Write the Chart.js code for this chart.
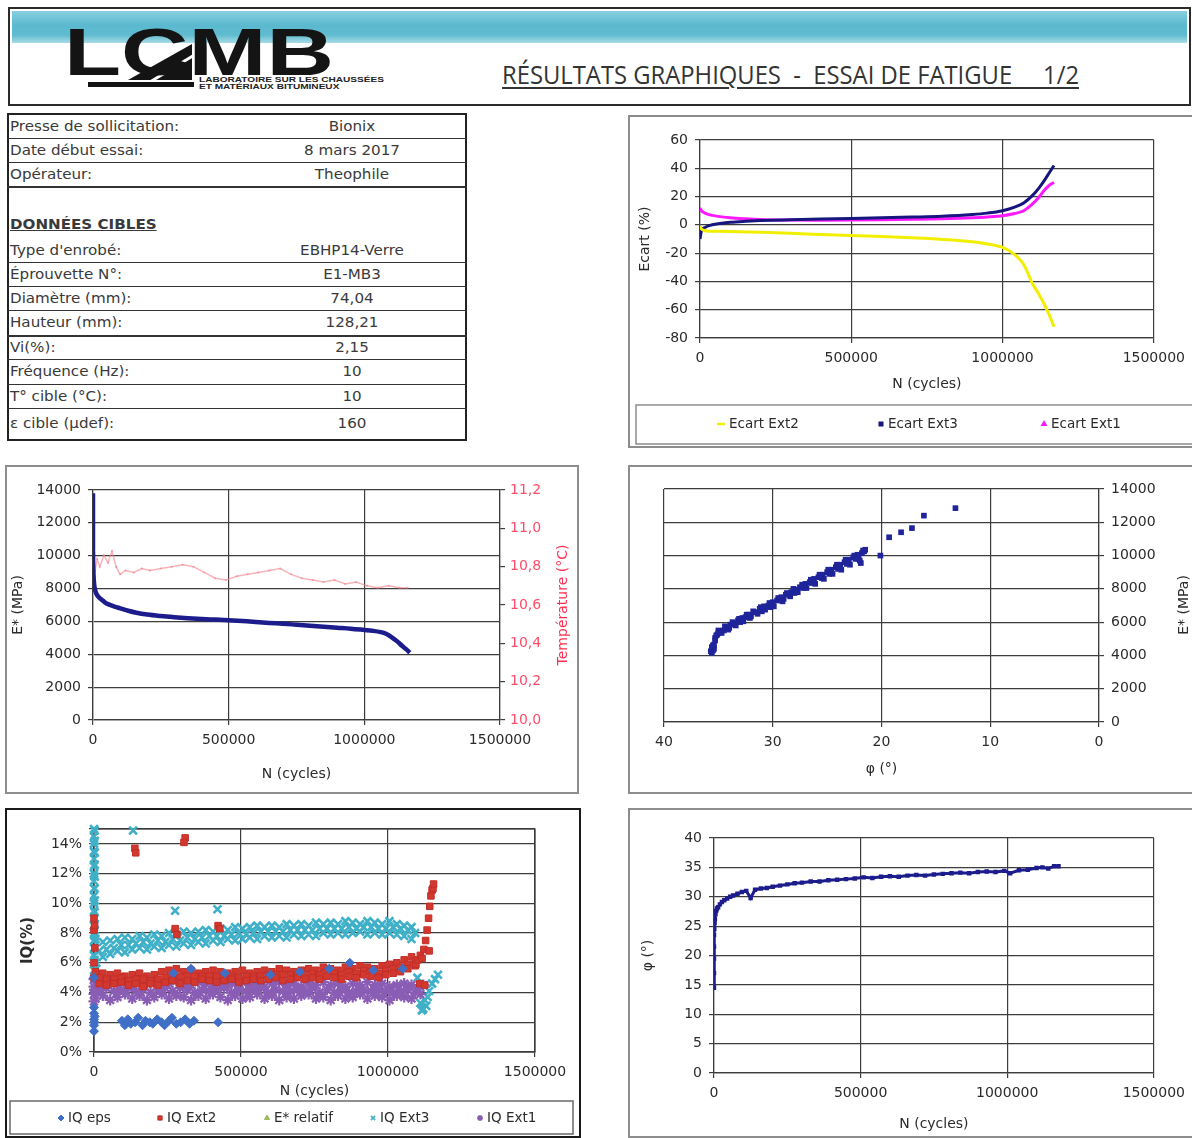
<!DOCTYPE html>
<html lang="fr">
<head>
<meta charset="utf-8">
<title>Résultats graphiques - Essai de fatigue</title>
<script src="https://cdn.jsdelivr.net/npm/chart.js@4/dist/chart.umd.min.js"></script>
<style>
html,body{margin:0;padding:0;background:#fff;}
body{position:relative;width:1192px;height:1138px;overflow:hidden;font-family:"DejaVu Sans",sans-serif;color:#333;}
.a{position:absolute;}
.frame{position:absolute;box-sizing:border-box;border:2px solid #8d8d8d;}
canvas{position:absolute;display:block;}
.hl{position:absolute;left:7px;width:460px;height:1px;background:#333;}
.lbl{position:absolute;left:10px;height:18px;line-height:18px;font-size:13.5px;white-space:nowrap;transform-origin:left center;transform:scaleX(1.12);color:#3a3a3a;}
.val{position:absolute;left:252px;width:200px;height:18px;line-height:18px;font-size:13.5px;text-align:center;white-space:nowrap;transform:scaleX(1.12);color:#3a3a3a;}
</style>
</head>
<body>
<!-- header -->
<div class="a" style="left:8px;top:7px;width:1183px;height:99px;border:2px solid #2b2b2b;box-sizing:border-box;"></div>
<div class="a" style="left:12px;top:11px;width:1175px;height:32px;background:linear-gradient(#88d0e0,#5bb9cf 45%,#60bbcf 75%,#a8dce7);"></div>
<svg class="a" style="left:0;top:0" width="260" height="100">
  <polygon points="128,80 192,80 192,44" fill="#141414"/>
  <line x1="150" y1="82" x2="196" y2="54" stroke="#fff" stroke-width="3"/>
  <rect x="88" y="82" width="106" height="5" fill="#141414"/>
</svg>
<div id="logo" class="a" style="left:64px;top:19px;font:bold 66px/66px 'Liberation Sans',sans-serif;color:#141414;transform-origin:left top;white-space:nowrap;">LCMB</div>
<div id="logosub" class="a" style="left:199px;top:76px;font:bold 6.5px/7px 'Liberation Sans',sans-serif;color:#222;white-space:nowrap;transform-origin:left top;">LABORATOIRE SUR LES CHAUSSÉES<br>ET MATÉRIAUX BITUMINEUX</div>
<div id="title" class="a" style="left:502px;top:59px;font:26px/30px 'Open Sans',sans-serif;color:#333;text-decoration:underline;text-decoration-thickness:1.5px;text-underline-offset:3px;white-space:pre;transform-origin:left top;">RÉSULTATS GRAPHIQUES  -  ESSAI DE FATIGUE     1/2</div>

<!-- table -->
<div class="a" style="left:7px;top:113px;width:460px;height:328px;border:2px solid #222;box-sizing:border-box;"></div>
<div class="hl" style="top:138px"></div>
<div class="hl" style="top:162px"></div>
<div class="hl" style="top:186px;height:2px"></div>
<div class="hl" style="top:262px"></div>
<div class="hl" style="top:286px"></div>
<div class="hl" style="top:310px"></div>
<div class="hl" style="top:335px;height:2px"></div>
<div class="hl" style="top:359px"></div>
<div class="hl" style="top:384px"></div>
<div class="hl" style="top:408px"></div>
<div class="lbl" style="top:117px">Presse de sollicitation:</div><div class="val" style="top:117px">Bionix</div>
<div class="lbl" style="top:141px">Date début essai:</div><div class="val" style="top:141px">8 mars 2017</div>
<div class="lbl" style="top:165px">Opérateur:</div><div class="val" style="top:165px">Theophile</div>
<div class="lbl" style="top:215px;font-weight:bold;text-decoration:underline;">DONNÉES CIBLES</div>
<div class="lbl" style="top:241px">Type d'enrobé:</div><div class="val" style="top:241px">EBHP14-Verre</div>
<div class="lbl" style="top:265px">Éprouvette N°:</div><div class="val" style="top:265px">E1-MB3</div>
<div class="lbl" style="top:289px">Diamètre (mm):</div><div class="val" style="top:289px">74,04</div>
<div class="lbl" style="top:313px">Hauteur (mm):</div><div class="val" style="top:313px">128,21</div>
<div class="lbl" style="top:338px">Vi(%):</div><div class="val" style="top:338px">2,15</div>
<div class="lbl" style="top:362px">Fréquence (Hz):</div><div class="val" style="top:362px">10</div>
<div class="lbl" style="top:387px">T° cible (°C):</div><div class="val" style="top:387px">10</div>
<div class="lbl" style="top:414px">ε cible (µdef):</div><div class="val" style="top:414px">160</div>

<!-- chart frames -->
<div class="frame" style="left:628px;top:115px;width:570px;height:333px;"></div>
<div class="frame" style="left:5px;top:465px;width:574px;height:329px;"></div>
<div class="frame" style="left:628px;top:465px;width:570px;height:329px;"></div>
<div class="frame" style="left:5px;top:808px;width:576px;height:330px;border-color:#1a1a1a;"></div>
<div class="frame" style="left:628px;top:808px;width:570px;height:330px;"></div>

<canvas id="c1" width="564" height="332" style="left:628px;top:115px;"></canvas>
<canvas id="c2" width="573" height="328" style="left:5px;top:465px;"></canvas>
<canvas id="c3" width="564" height="328" style="left:628px;top:465px;"></canvas>
<canvas id="c4" width="575" height="330" style="left:5px;top:808px;"></canvas>
<canvas id="c5" width="564" height="330" style="left:628px;top:808px;"></canvas>

<script>
// ================= DATA =================
// Chart 1 : Ecart (%) vs N (cycles)
const ecartN = [0, 5000, 15000, 30000, 60000, 100000, 150000, 200000, 300000, 400000, 500000, 600000, 700000, 800000, 900000, 950000, 1000000, 1040000, 1070000, 1100000, 1120000, 1140000, 1155000, 1170000];
const ecartExt2 = [-1, -3, -4, -4.5, -4.6, -4.7, -5, -5.3, -6, -6.8, -7.5, -8.3, -9.2, -10.3, -12, -13.5, -16, -21, -28, -42, -49, -57, -64, -72];
const ecartExt3 = [-10, -4, -2, -0.5, 0.8, 1.8, 2.5, 3, 3.6, 4.1, 4.5, 5, 5.5, 6.1, 7.3, 8.3, 10, 12.5, 15.5, 21, 26, 32, 37, 42];
const ecartExt1 = [12, 10, 8.5, 7.2, 6, 5, 4.3, 3.8, 3.4, 3.3, 3.4, 3.6, 3.9, 4.3, 5, 5.6, 6.5, 8, 10, 15, 19.5, 25, 28, 30];

// Chart 2 : E* (MPa) and temperature (°C) vs N
const eN = [0, 0, 0, 0, 500, 1000, 2000, 3500, 5000, 8000, 12000, 20000, 30000, 45000, 60000, 80000, 100000, 130000, 160000, 200000, 250000, 300000, 350000, 400000, 450000, 500000, 550000, 600000, 650000, 700000, 750000, 800000, 850000, 900000, 950000, 1000000, 1030000, 1060000, 1080000, 1100000, 1120000, 1140000, 1155000, 1168000];
const eStar = [13800, 12500, 11200, 10300, 9700, 9200, 8800, 8400, 8150, 7900, 7700, 7500, 7350, 7150, 7020, 6900, 6800, 6650, 6530, 6420, 6330, 6260, 6200, 6150, 6110, 6070, 6020, 5970, 5910, 5860, 5800, 5740, 5680, 5620, 5560, 5480, 5430, 5350, 5250, 5050, 4800, 4500, 4300, 4100];
const tN = [0, 0, 0, 0, 0, 1000, 3000, 8000, 15000, 25000, 40000, 55000, 70000, 85000, 100000, 120000, 150000, 180000, 210000, 250000, 290000, 330000, 370000, 410000, 450000, 490000, 530000, 570000, 610000, 650000, 690000, 730000, 770000, 810000, 850000, 890000, 930000, 970000, 1010000, 1050000, 1090000, 1130000, 1160000];
const temp = [10.0, 10.2, 10.4, 10.6, 10.75, 10.8, 10.83, 10.78, 10.84, 10.8, 10.86, 10.82, 10.88, 10.8, 10.76, 10.78, 10.77, 10.79, 10.78, 10.79, 10.8, 10.81, 10.8, 10.77, 10.74, 10.73, 10.75, 10.76, 10.77, 10.78, 10.79, 10.76, 10.74, 10.73, 10.72, 10.73, 10.71, 10.72, 10.7, 10.69, 10.7, 10.69, 10.69];

// Chart 3 : E* (MPa) vs phi (°)
const phiX = [35.6, 35.5, 35.4, 35.6, 35.3, 35.2, 35.0, 35.1, 34.8, 34.5, 34.2, 34.0, 33.9, 33.5, 33.2, 33.0, 32.8, 32.5, 32.2, 32.0, 31.6, 31.2, 31.0, 30.8, 30.4, 30.2, 30.0, 29.6, 29.2, 29.0, 28.8, 28.3, 28.0, 27.9, 27.5, 27.2, 27.0, 26.6, 26.4, 26.2, 25.8, 25.5, 25.4, 25.0, 24.8, 24.6, 24.2, 24.0, 23.8, 23.4, 23.2, 23.0, 22.6, 22.4, 22.2, 21.9, 21.8, 21.6, 21.5, 22.0, 20.1, 19.3, 18.2, 17.2, 16.1, 13.2];
const eY = [4150, 4400, 4650, 4500, 4900, 5200, 5350, 5250, 5450, 5500, 5700, 5650, 5850, 5900, 6100, 6000, 6250, 6300, 6450, 6350, 6600, 6800, 6650, 6950, 7000, 6900, 7200, 7300, 7500, 7400, 7650, 7800, 7750, 7950, 8100, 8050, 8300, 8400, 8350, 8600, 8700, 8650, 8850, 9000, 8900, 9150, 9300, 9200, 9450, 9600, 9500, 9750, 9900, 9800, 10050, 9550, 10150, 10250, 10350, 9700, 10000, 11100, 11400, 11650, 12400, 12850];
const phiX2 = [35.5, 35.3, 35.0, 34.7, 34.4, 34.1, 33.7, 33.4, 33.1, 32.7, 32.4, 32.1, 31.8, 31.4, 31.1, 30.7, 30.3, 29.9, 29.5, 29.1, 28.7, 28.4, 28.1, 27.7, 27.3, 26.9, 26.5, 26.1, 25.7, 25.3, 24.9, 24.5, 24.1, 23.7, 23.3, 22.9, 22.5, 22.1, 21.7, 35.7, 35.4, 35.5];
const eY2 = [4300, 5050, 5500, 5350, 5750, 5550, 6000, 5800, 6200, 6050, 6450, 6250, 6650, 6500, 6900, 6750, 7150, 6950, 7450, 7250, 7750, 7550, 8000, 7800, 8250, 8050, 8550, 8300, 8850, 8600, 9150, 8900, 9450, 9150, 9750, 9450, 10000, 9800, 10300, 4250, 4400, 4600];

// Chart 4 : IQ (%) vs N
const iqGridA = [5000, 30000, 55000, 80000, 105000, 130000, 155000, 180000, 205000, 230000, 255000, 280000, 305000, 330000, 355000, 380000, 405000, 430000, 455000, 480000, 505000, 530000, 555000, 580000, 605000, 630000, 655000, 680000, 705000, 730000, 755000, 780000, 805000, 830000, 855000, 880000, 905000, 930000, 955000, 980000, 1005000, 1030000, 1055000, 1080000];
const iqGridB = [17500, 42500, 67500, 92500, 117500, 142500, 167500, 192500, 217500, 242500, 267500, 292500, 317500, 342500, 367500, 392500, 417500, 442500, 467500, 492500, 517500, 542500, 567500, 592500, 617500, 642500, 667500, 692500, 717500, 742500, 767500, 792500, 817500, 842500, 867500, 892500, 917500, 942500, 967500, 992500, 1017500, 1042500, 1067500, 1092500];
const iqEpsN = [0, 0, 0, 0, 0, 0, 1500, 2500, 95000, 105000, 115000, 125000, 140000, 150000, 165000, 175000, 190000, 200000, 215000, 230000, 240000, 255000, 265000, 280000, 295000, 310000, 325000, 340000, 422000, 270000, 330000, 445000, 600000, 700000, 800000, 870000, 950000, 1050000];
const iqEps = [1.4, 1.8, 2.2, 2.6, 3.0, 5.0, 2.0, 2.4, 2.1, 1.8, 2.2, 1.9, 2.0, 2.3, 1.8, 2.1, 2.0, 1.9, 2.2, 2.0, 1.8, 2.1, 2.3, 1.9, 2.0, 2.2, 1.9, 2.1, 2.0, 5.3, 5.6, 5.3, 5.2, 5.4, 5.6, 6.0, 5.5, 5.6];
const iqExt2Hi = [5.4, 5.3, 5.2, 5.3, 5.1, 5.2, 5.3, 5.1, 5.2, 5.4, 5.5, 5.6, 5.4, 5.5, 5.3, 5.4, 5.5, 5.4, 5.3, 5.4, 5.5, 5.3, 5.4, 5.5, 5.4, 5.6, 5.5, 5.4, 5.5, 5.6, 5.5, 5.7, 5.6, 5.5, 5.7, 5.6, 5.8, 5.7, 5.6, 5.8, 5.9, 6.0, 6.2, 6.4];
const iqExt2Mid = [5.0, 4.9, 4.9, 5.0, 4.8, 4.9, 4.9, 4.8, 4.9, 5.0, 5.1, 5.1, 5.1, 5.1, 5.1, 5.1, 5.1, 5.1, 5.1, 5.0, 5.1, 5.1, 5.1, 5.2, 5.2, 5.2, 5.2, 5.2, 5.2, 5.3, 5.2, 5.4, 5.3, 5.2, 5.4, 5.3, 5.5, 5.4, 5.3, 5.5, 5.6, 5.7, 5.9, 6.1];
const iqExt2Lo = [4.6, 4.5, 4.6, 4.7, 4.5, 4.6, 4.4, 4.6, 4.5, 4.7, 4.8, 4.6, 4.8, 4.7, 4.9, 4.8, 4.7, 4.8, 4.9, 4.7, 4.8, 4.9, 4.8, 4.9, 5.0, 4.8, 4.9, 5.0, 4.9, 5.0, 4.9, 5.1, 5.0, 4.9, 5.1, 5.0, 5.2, 5.1, 5.0, 5.2, 5.3, 5.4, 5.6, 5.8];
const iqExt2XN = [0, 0, 0, 0, 2000, 3000, 139000, 142000, 310000, 306000, 276000, 282000, 422000, 428000, 1095000, 1102000, 1110000, 1116000, 1122000, 1128000, 1133000, 1138000, 1142000, 1146000, 1150000, 1153000, 1155000, 1108000, 1125000, 1140000];
const iqExt2XV = [5.0, 6.0, 8.2, 9.0, 8.5, 7.0, 13.7, 13.4, 14.4, 14.1, 8.3, 7.9, 8.5, 8.3, 5.9, 6.2, 6.5, 6.3, 6.9, 7.5, 8.2, 9.0, 9.8, 10.5, 10.9, 11.0, 11.3, 4.6, 4.5, 6.8];
const eRelN = [0, 100000, 300000, 500000, 700000, 900000, 1100000, 1168000];
const eRel = [100, 66, 61, 59, 57, 55, 50, 40];
const iqExt3Hi = [7.6, 7.4, 7.5, 7.6, 7.7, 7.6, 7.8, 7.7, 7.9, 7.8, 8.0, 7.9, 8.1, 8.0, 8.1, 8.2, 8.1, 8.3, 8.2, 8.4, 8.3, 8.4, 8.5, 8.4, 8.5, 8.4, 8.6, 8.5, 8.6, 8.5, 8.7, 8.6, 8.7, 8.6, 8.8, 8.7, 8.6, 8.8, 8.7, 8.6, 8.8, 8.6, 8.5, 8.4];
const iqExt3Mid = [6.8, 6.9, 7.0, 7.2, 7.2, 7.3, 7.4, 7.3, 7.5, 7.4, 7.6, 7.5, 7.7, 7.6, 7.7, 7.8, 7.8, 7.8, 7.9, 8.0, 7.9, 8.0, 8.1, 8.1, 8.1, 8.1, 8.2, 8.2, 8.2, 8.2, 8.3, 8.3, 8.3, 8.3, 8.4, 8.3, 8.4, 8.4, 8.3, 8.3, 8.4, 8.3, 8.2, 8.0];
const iqExt3Lo = [6.0, 6.4, 6.6, 6.8, 6.7, 6.9, 7.0, 6.9, 7.1, 7.0, 7.2, 7.1, 7.3, 7.2, 7.4, 7.3, 7.5, 7.4, 7.6, 7.5, 7.6, 7.7, 7.6, 7.8, 7.7, 7.8, 7.7, 7.9, 7.8, 7.9, 7.8, 8.0, 7.9, 8.0, 7.9, 8.0, 8.1, 7.9, 8.0, 7.9, 8.0, 7.9, 7.8, 7.6];
const iqExt3XN = [0, 0, 0, 0, 0, 0, 0, 0, 0, 0, 0, 0, 0, 0, 0, 0, 0, 0, 0, 0, 2500, 2500, 2500, 2500, 2500, 2500, 2500, 2500, 2500, 2500, 2500, 2500, 8000, 133000, 276000, 420000, 1100000, 1105000, 1110000, 1115000, 1120000, 1125000, 1130000, 1135000, 1140000, 1150000, 1160000, 1170000];
const iqExt3XV = [5.5, 6.0, 6.5, 7.0, 7.5, 8.0, 8.5, 9.0, 9.5, 10.0, 10.5, 11.0, 11.5, 12.0, 12.5, 13.0, 13.5, 14.0, 14.5, 15.0, 6.2, 7.0, 7.8, 8.6, 9.4, 10.2, 11.0, 11.8, 12.6, 13.4, 14.2, 14.9, 5.6, 14.9, 9.5, 9.6, 5.0, 4.1, 3.3, 2.8, 2.9, 3.5, 3.1, 3.7, 4.1, 4.6, 4.9, 5.2];
const iqExt1Hi = [4.9, 4.7, 4.8, 4.6, 4.7, 4.5, 4.8, 4.6, 4.7, 4.5, 4.6, 4.8, 4.6, 4.5, 4.7, 4.6, 4.4, 4.7, 4.5, 4.6, 4.7, 4.5, 4.6, 4.4, 4.6, 4.7, 4.5, 4.6, 4.4, 4.6, 4.5, 4.7, 4.5, 4.6, 4.4, 4.6, 4.5, 4.7, 4.5, 4.6, 4.4, 4.5, 4.6, 4.5];
const iqExt1Mid = [4.2, 4.3, 4.1, 4.2, 4.3, 4.1, 4.2, 4.0, 4.2, 4.3, 4.1, 4.3, 4.2, 4.0, 4.2, 4.1, 4.2, 4.3, 4.0, 4.2, 4.1, 4.2, 4.3, 4.0, 4.2, 4.1, 4.1, 4.2, 4.1, 4.3, 4.0, 4.2, 4.0, 4.2, 4.0, 4.1, 4.2, 4.1, 4.2, 4.1, 4.0, 4.1, 4.2, 4.0];
const iqExt1Lo = [3.6, 3.8, 3.5, 3.7, 3.9, 3.6, 3.8, 3.5, 3.7, 3.9, 3.6, 3.8, 3.7, 3.5, 3.8, 3.6, 3.9, 3.7, 3.5, 3.8, 3.6, 3.7, 3.9, 3.6, 3.8, 3.5, 3.7, 3.6, 3.8, 3.9, 3.6, 3.7, 3.5, 3.8, 3.6, 3.7, 3.9, 3.6, 3.8, 3.7, 3.5, 3.8, 3.7, 3.6];
const iqExt1XN = [0, 0, 0, 0, 2000, 1100000, 1110000, 1120000];
const iqExt1XV = [3.4, 3.9, 4.4, 4.9, 4.2, 4.3, 3.9, 4.5];

// Chart 5 : phi (°) vs N
const phiN = [0, 0, 0, 0, 0, 1000, 2000, 3000, 5000, 7000, 10000, 14000, 20000, 27000, 35000, 45000, 55000, 65000, 80000, 95000, 110000, 125000, 140000, 160000, 180000, 200000, 225000, 250000, 275000, 300000, 330000, 360000, 390000, 420000, 450000, 480000, 510000, 540000, 570000, 600000, 630000, 660000, 690000, 720000, 750000, 780000, 810000, 840000, 870000, 900000, 930000, 960000, 990000, 1010000, 1040000, 1070000, 1100000, 1120000, 1140000, 1160000, 1175000];
const phiV = [14.5, 17, 19.5, 21.5, 23.5, 24.5, 25.5, 26.2, 27, 27.6, 28.0, 28.2, 28.7, 29.1, 29.4, 29.7, 30.0, 30.2, 30.5, 30.8, 31.0, 29.8, 31.2, 31.4, 31.5, 31.7, 31.9, 32.1, 32.3, 32.4, 32.6, 32.6, 32.8, 32.9, 33.0, 33.1, 33.3, 33.2, 33.4, 33.5, 33.4, 33.6, 33.7, 33.6, 33.8, 33.9, 34.0, 34.1, 34.0, 34.2, 34.3, 34.2, 34.4, 34.0, 34.5, 34.6, 34.9, 35.0, 34.8, 35.2, 35.2];

// ================= SETUP =================
const GRID = '#3d3d3d';
const TXT = '#2b2b2b';
const FONT = '"DejaVu Sans", sans-serif';
Chart.defaults.font.family = FONT;
Chart.defaults.font.size = 14;
Chart.defaults.color = TXT;
Chart.defaults.animation = false;
Chart.defaults.responsive = false;
Chart.defaults.events = [];
Chart.defaults.plugins.legend.display = false;
Chart.defaults.plugins.tooltip.enabled = false;

const pts = (xs, ys) => xs.map((x, i) => ({x: x, y: ys[i]}));
const plain = v => String(v);

function lin(o) {
  return {
    type: 'linear', position: o.pos, min: o.min, max: o.max, reverse: !!o.reverse, bounds: 'data',
    ticks: {stepSize: o.step, callback: o.fmt || plain, color: o.color || TXT, padding: (o.pad !== undefined ? o.pad : 7),
            maxRotation: 0, minRotation: 0, autoSkip: false, includeBounds: false, font: {size: 14}},
    grid: {display: true, drawOnChartArea: o.grid !== false, color: GRID, lineWidth: 1.2, tickLength: 5, tickColor: GRID, tickWidth: 1.2},
    border: {display: true, color: GRID, width: 1.2},
    title: o.title ? {display: true, text: o.title, color: o.tcolor || TXT,
                      font: {size: o.tsize || 14, weight: o.tweight || 'normal'}, padding: {top: o.tpad || 0, bottom: 0}}
                   : {display: false},
    afterFit: function (s) { if (s.isHorizontal()) s.height = o.size; else s.width = o.size; }
  };
}

const extras = {
  id: 'extras',
  beforeDatasetsDraw(chart, args, o) {
    if (!o || !o.plotBorder) return;
    const a = chart.chartArea, c = chart.ctx;
    c.save(); c.strokeStyle = o.plotBorder; c.lineWidth = 1.2;
    c.strokeRect(a.left, a.top, a.right - a.left, a.bottom - a.top);
    c.restore();
  },
  afterDraw(chart, args, o) {
    if (!o) return;
    const c = chart.ctx;
    if (o.rightTitle) {
      const t = o.rightTitle;
      c.save();
      c.translate(t.x, t.y); c.rotate(-Math.PI / 2);
      c.font = t.fnt || ('14px ' + FONT);
      c.fillStyle = t.col || TXT; c.textAlign = 'center'; c.textBaseline = 'middle';
      c.fillText(t.text, 0, 0);
      c.restore();
    }
    if (o.legend) {
      const L = o.legend;
      c.save();
      c.strokeStyle = L.border || '#8d8d8d'; c.lineWidth = 1.5;
      c.strokeRect(L.box[0], L.box[1], L.box[2], L.box[3]);
      c.font = L.fnt; c.textBaseline = 'middle'; c.textAlign = 'left';
      chart.data.datasets.forEach((ds, i) => {
        const x = L.xs[i], y = L.y, mk = L.marks[i];
        const col = ds.borderColor;
        c.fillStyle = ds.backgroundColor || col; c.strokeStyle = col;
        if (mk === 'line') {
          c.lineWidth = 2.5; c.beginPath(); c.moveTo(x - 12, y); c.lineTo(x - 4, y); c.stroke();
        } else if (Chart.helpers && Chart.helpers.drawPoint) {
          c.lineWidth = Math.min(ds.borderWidth || 1, 1.5);
          Chart.helpers.drawPoint(c, {pointStyle: mk, radius: L.r || 3, borderWidth: c.lineWidth, rotation: 0}, x - 7, y);
        } else {
          c.fillRect(x - 10, y - 3, 6, 6);
        }
        c.fillStyle = L.col || TXT;
        c.fillText(ds.label, x, y + 0.5);
      });
      c.restore();
    }
  }
};
Chart.register(extras);

// ================= CHART 1 =================
new Chart(document.getElementById('c1'), {
  type: 'scatter',
  data: {datasets: [
    {label: 'Ecart Ext2', data: pts(ecartN, ecartExt2), showLine: true, borderColor: '#f2ee00', backgroundColor: '#f2ee00', borderWidth: 3, pointRadius: 0, cubicInterpolationMode: 'monotone'},
    {label: 'Ecart Ext3', data: pts(ecartN, ecartExt3), showLine: true, borderColor: '#16167e', backgroundColor: '#16167e', borderWidth: 3, pointRadius: 0, cubicInterpolationMode: 'monotone'},
    {label: 'Ecart Ext1', data: pts(ecartN, ecartExt1), showLine: true, borderColor: '#ff19ff', backgroundColor: '#ff19ff', borderWidth: 3, pointRadius: 0, cubicInterpolationMode: 'monotone'}
  ]},
  options: {
    layout: {padding: {left: 4, top: 25, right: 34, bottom: 54}},
    scales: {
      x: lin({pos: 'bottom', min: 0, max: 1500000, step: 500000, size: 55, title: 'N (cycles)'}),
      y: lin({pos: 'left', min: -80, max: 60, step: 20, size: 68, title: 'Ecart (%)', tpad: 5})
    },
    plugins: {extras: {legend: {box: [8, 290, 560, 39], y: 309, xs: [101, 260, 423], marks: ['line', 'rect', 'triangle'], r: 2.5, fnt: '13.5px ' + FONT, col: TXT}}}
  }
});

// ================= CHART 2 =================
new Chart(document.getElementById('c2'), {
  type: 'scatter',
  data: {datasets: [
    {label: 'E*', data: pts(eN, eStar), showLine: true, borderColor: '#1c1c8c', backgroundColor: '#1c1c8c', borderWidth: 4.5, pointRadius: 0, cubicInterpolationMode: 'monotone', yAxisID: 'y'},
    {label: 'Température', data: pts(tN, temp), showLine: true, borderColor: 'rgba(245,140,150,0.65)', backgroundColor: 'rgba(245,120,130,0.6)', borderWidth: 1.5, pointRadius: 1, pointBorderWidth: 0, yAxisID: 'yT'}
  ]},
  options: {
    layout: {padding: {left: 3, top: 25, right: 2, bottom: 10}},
    scales: {
      x: lin({pos: 'bottom', min: 0, max: 1500000, step: 500000, size: 63, title: 'N (cycles)'}),
      y: lin({pos: 'left', min: 0, max: 14000, step: 2000, size: 85, title: 'E* (MPa)', tpad: 2}),
      yT: lin({pos: 'right', min: 10, max: 11.2, step: 0.2, size: 76, grid: false, color: '#ff4d6a', pad: 5,
               fmt: v => v.toFixed(1).replace('.', ',')})
    },
    plugins: {extras: {rightTitle: {text: 'Température (°C)', x: 558, y: 140, col: '#ff3050'}}}
  }
});

// ================= CHART 3 =================
new Chart(document.getElementById('c3'), {
  type: 'scatter',
  data: {datasets: [
    {label: 'E* / φ', data: [...pts(phiX, eY), ...pts(phiX2, eY2)], pointStyle: 'rect', pointRadius: 4, backgroundColor: '#1f249a', borderColor: '#1f249a', borderWidth: 0}
  ]},
  options: {
    layout: {padding: {left: 36, top: 24, right: 0, bottom: 15}},
    scales: {
      x: lin({pos: 'bottom', min: 0, max: 40, step: 10, reverse: true, size: 56, title: 'φ (°)'}),
      y: lin({pos: 'right', min: 0, max: 14000, step: 2000, size: 93})
    },
    plugins: {extras: {rightTitle: {text: 'E* (MPa)', x: 556, y: 140, col: TXT}}}
  }
});

// ================= CHART 4 =================
new Chart(document.getElementById('c4'), {
  type: 'scatter',
  data: {datasets: [
    {label: 'IQ eps', data: pts(iqEpsN, iqEps), pointStyle: 'rectRot', pointRadius: 4.5, backgroundColor: '#3f6fc6', borderColor: '#3f6fc6', borderWidth: 1, order: 0, clip: 6},
    {label: 'IQ Ext2', data: [...pts(iqGridA, iqExt2Hi), ...pts(iqGridB, iqExt2Mid), ...pts(iqGridB, iqExt2Lo), ...pts(iqExt2XN, iqExt2XV)], pointStyle: 'rect', pointRadius: 4.6, backgroundColor: '#d3382f', borderColor: '#c22f28', borderWidth: 1, order: 1, clip: 6},
    {label: 'E* relatif', data: pts(eRelN, eRel), pointStyle: 'triangle', pointRadius: 4, backgroundColor: '#9bbb59', borderColor: '#9bbb59', borderWidth: 1, order: 2, clip: 6},
    {label: 'IQ Ext3', data: [...pts(iqGridA, iqExt3Hi), ...pts(iqGridB, iqExt3Mid), ...pts(iqGridA, iqExt3Lo), ...pts(iqExt3XN, iqExt3XV)], pointStyle: 'crossRot', pointRadius: 5.5, backgroundColor: '#3fb0c8', borderColor: '#3fb0c8', borderWidth: 2.6, order: 4, clip: 6},
    {label: 'IQ Ext1', data: [...pts(iqGridA, iqExt1Hi), ...pts(iqGridB, iqExt1Mid), ...pts(iqGridA, iqExt1Lo), ...pts(iqExt1XN, iqExt1XV)], pointStyle: 'star', pointRadius: 5.5, backgroundColor: '#8a5db5', borderColor: '#8a5db5', borderWidth: 2.2, order: 3, clip: 6}
  ]},
  options: {
    layout: {padding: {left: 3, top: 21, right: 45, bottom: 38}},
    scales: {
      x: lin({pos: 'bottom', min: 0, max: 1500000, step: 500000, size: 48, title: 'N (cycles)'}),
      y: lin({pos: 'left', min: 0, max: 15, step: 2, size: 86, title: 'IQ(%)', tpad: 11, tsize: 15, tweight: 'bold',
              fmt: v => (Math.round(v) % 2 === 0 ? v + '%' : '')})
    },
    plugins: {extras: {plotBorder: GRID, legend: {box: [5, 293, 563, 33], y: 310, xs: [63, 162, 269, 375, 482], marks: ['rectRot', 'rect', 'triangle', 'crossRot', 'star'], r: 3, fnt: '13.5px ' + FONT, col: TXT, border: '#6a6a6a'}}}
  }
});

// ================= CHART 5 =================
new Chart(document.getElementById('c5'), {
  type: 'scatter',
  data: {datasets: [
    {label: 'φ', data: pts(phiN, phiV), showLine: true, borderColor: '#1c1c8c', backgroundColor: '#1c1c8c', borderWidth: 3, pointRadius: 1, pointStyle: 'rect'}
  ]},
  options: {
    layout: {padding: {left: 4, top: 30, right: 37, bottom: 5}},
    scales: {
      x: lin({pos: 'bottom', min: 0, max: 1500000, step: 500000, size: 60, title: 'N (cycles)'}),
      y: lin({pos: 'left', min: 0, max: 40, step: 5, size: 82, title: 'φ (°)', tpad: 8})
    }
  }
});

// ================= header text fitting =================
function fitWidth(id, w) {
  const el = document.getElementById(id);
  const cur = el.getBoundingClientRect().width;
  if (cur > 0) el.style.transform = 'scaleX(' + (w / cur) + ')';
}
fitWidth('title', 577);
fitWidth('logo', 270);
fitWidth('logosub', 185);
</script>
</body>
</html>
